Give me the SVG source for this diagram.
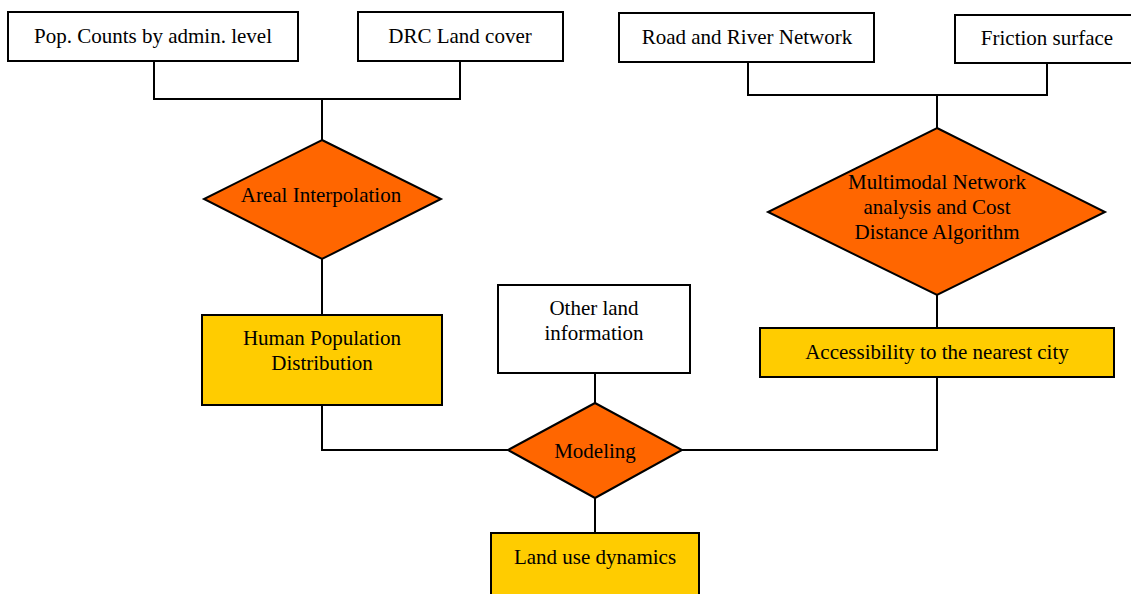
<svg xmlns="http://www.w3.org/2000/svg" width="1131" height="594" viewBox="0 0 1131 594">
  <style>
    .box { stroke: #000; stroke-width: 2; }
    .input { fill: #fff; }
    .product { fill: #FFCC00; }
    .process { fill: #FF6600; stroke: #000; stroke-width: 2; stroke-linejoin: miter; }
    .link { fill: none; stroke: #000; stroke-width: 2; }
    .label { font-family: 'Liberation Serif', 'Times New Roman', Tinos, 'DejaVu Serif', serif; font-size: 21px; fill: #000; text-anchor: middle; }
  </style>
  <rect width="1131" height="594" fill="#fff"/>

  <!-- connectors -->
  <g id="connectors" class="link">
    <polyline points="154,61 154,99 460,99 460,61"/>
    <line x1="322" y1="99" x2="322" y2="140"/>
    <polyline points="748,62 748,95 1047,95 1047,63"/>
    <line x1="937" y1="95" x2="937" y2="128"/>
    <line x1="322" y1="259" x2="322" y2="315"/>
    <line x1="937" y1="295" x2="937" y2="328"/>
    <polyline points="322,405 322,450 508,450"/>
    <polyline points="937,377 937,450 682,450"/>
    <line x1="595" y1="373" x2="595" y2="403"/>
    <line x1="595" y1="498" x2="595" y2="533"/>
  </g>

  <g class="label" font-family="Liberation Serif, serif">
    <!-- input data -->
    <g id="pop-counts">
      <rect class="box input" x="8" y="12" width="290" height="49"/>
      <text x="153" y="43">Pop. Counts by admin. level</text>
    </g>
    <g id="land-cover">
      <rect class="box input" x="358" y="12" width="205" height="49"/>
      <text x="460" y="43">DRC Land cover</text>
    </g>
    <g id="road-river">
      <rect class="box input" x="619" y="13" width="255" height="49"/>
      <text x="747" y="44">Road and River Network</text>
    </g>
    <g id="friction">
      <rect class="box input" x="955" y="15" width="180" height="48"/>
      <text x="1047" y="45">Friction surface</text>
    </g>
    <g id="other-land">
      <rect class="box input" x="498" y="285" width="192" height="88"/>
      <text x="594" y="315">Other land</text>
      <text x="594" y="340">information</text>
    </g>

    <!-- processing steps -->
    <g id="areal-interpolation">
      <polygon class="process" points="322,140 441,199 322,259 204,199"/>
      <text x="321" y="202">Areal Interpolation</text>
    </g>
    <g id="network-analysis">
      <polygon class="process" points="937,128 1105,212 937,295 768,212"/>
      <text x="937" y="189">Multimodal Network</text>
      <text x="937" y="214">analysis and Cost</text>
      <text x="937" y="239">Distance Algorithm</text>
    </g>
    <g id="modeling">
      <polygon class="process" points="595,403 682,450 595,498 508,450"/>
      <text x="595" y="458">Modeling</text>
    </g>

    <!-- outputs -->
    <g id="population-distribution">
      <rect class="box product" x="202" y="315" width="240" height="90"/>
      <text x="322" y="345">Human Population</text>
      <text x="322" y="370">Distribution</text>
    </g>
    <g id="accessibility">
      <rect class="box product" x="760" y="328" width="354" height="49"/>
      <text x="937" y="359">Accessibility to the nearest city</text>
    </g>
    <g id="land-use-dynamics">
      <rect class="box product" x="491" y="533" width="208" height="70"/>
      <text x="595" y="564">Land use dynamics</text>
    </g>
  </g>
</svg>
